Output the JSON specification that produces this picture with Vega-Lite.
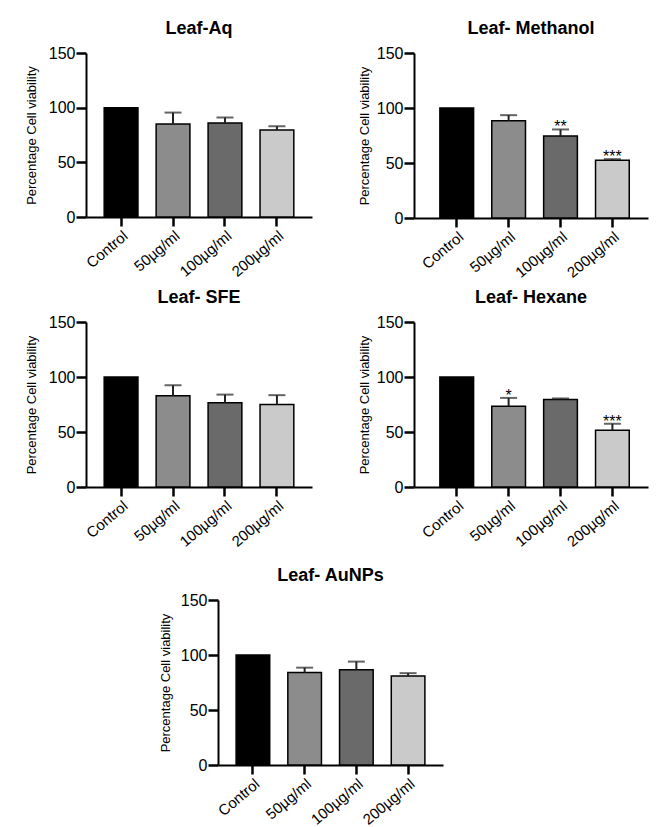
{
  "$schema": "https://vega.github.io/schema/vega-lite/v6.json",
  "background": "white",
  "padding": {"left": 25, "top": 20, "right": 5, "bottom": 0},
  "config": {
    "view": {"stroke": null},
    "font": "Liberation Sans",
    "title": {"font": "Liberation Sans", "fontSize": 18, "fontWeight": "bold", "color": "black", "frame": "group", "anchor": "middle", "offset": 7},
    "axis": {"grid": false, "domainColor": "black", "domainWidth": 2, "tickColor": "black", "tickWidth": 2.5, "labelColor": "black", "titleColor": "black", "labelFont": "Liberation Sans", "titleFont": "Liberation Sans"},
    "axisY": {"tickSize": 10, "labelFontSize": 16, "labelPadding": 1, "titleFontSize": 13, "titleFontWeight": "normal"},
    "axisX": {"tickSize": 9, "labelFontSize": 15, "labelAngle": -40, "labelPadding": 2, "title": null}
  },
  "datasets": {
    "cells": [
      {"panel": "Leaf-Aq", "group": "Control", "mean": 100, "upper": null, "sig": ""},
      {"panel": "Leaf-Aq", "group": "50µg/ml", "mean": 85, "upper": 95.5, "sig": ""},
      {"panel": "Leaf-Aq", "group": "100µg/ml", "mean": 86, "upper": 91, "sig": ""},
      {"panel": "Leaf-Aq", "group": "200µg/ml", "mean": 79.5, "upper": 83, "sig": ""},
      {"panel": "Leaf- Methanol", "group": "Control", "mean": 100, "upper": null, "sig": ""},
      {"panel": "Leaf- Methanol", "group": "50µg/ml", "mean": 88.5, "upper": 93.5, "sig": ""},
      {"panel": "Leaf- Methanol", "group": "100µg/ml", "mean": 74.5, "upper": 80.5, "sig": "**"},
      {"panel": "Leaf- Methanol", "group": "200µg/ml", "mean": 52.5, "upper": 53.5, "sig": "***"},
      {"panel": "Leaf- SFE", "group": "Control", "mean": 100, "upper": null, "sig": ""},
      {"panel": "Leaf- SFE", "group": "50µg/ml", "mean": 83, "upper": 92.5, "sig": ""},
      {"panel": "Leaf- SFE", "group": "100µg/ml", "mean": 76.5, "upper": 84, "sig": ""},
      {"panel": "Leaf- SFE", "group": "200µg/ml", "mean": 75, "upper": 83.5, "sig": ""},
      {"panel": "Leaf- Hexane", "group": "Control", "mean": 100, "upper": null, "sig": ""},
      {"panel": "Leaf- Hexane", "group": "50µg/ml", "mean": 73.5, "upper": 81, "sig": "*"},
      {"panel": "Leaf- Hexane", "group": "100µg/ml", "mean": 79.5, "upper": 80.5, "sig": ""},
      {"panel": "Leaf- Hexane", "group": "200µg/ml", "mean": 51.5, "upper": 57.5, "sig": "***"},
      {"panel": "Leaf- AuNPs", "group": "Control", "mean": 100, "upper": null, "sig": ""},
      {"panel": "Leaf- AuNPs", "group": "50µg/ml", "mean": 84, "upper": 88.5, "sig": ""},
      {"panel": "Leaf- AuNPs", "group": "100µg/ml", "mean": 86.5, "upper": 94, "sig": ""},
      {"panel": "Leaf- AuNPs", "group": "200µg/ml", "mean": 81, "upper": 83.5, "sig": ""}
    ]
  },
  "data": {"name": "cells"},
  "spacing": 17,
  "vconcat": [
    {
      "spacing": 8,
      "vconcat": [
        {
          "spacing": 46,
          "hconcat": [
            {
              "width": 226, "height": 164,
              "title": "Leaf-Aq",
              "transform": [{"filter": "datum.panel == 'Leaf-Aq'"}],
              "encoding": {"x": {"field": "group", "type": "nominal", "sort": ["Control", "50µg/ml", "100µg/ml", "200µg/ml"], "scale": {"paddingInner": 0.35, "paddingOuter": 0.35}}},
              "layer": [
                {"mark": {"type": "bar", "stroke": "black", "strokeWidth": 1.5},
                 "encoding": {"y": {"field": "mean", "type": "quantitative", "scale": {"domain": [0, 150], "nice": false}, "title": "Percentage Cell viability", "axis": {"titlePadding": 10, "values": [0, 50, 100, 150]}},
                              "color": {"field": "group", "type": "nominal", "scale": {"domain": ["Control", "50µg/ml", "100µg/ml", "200µg/ml"], "range": ["#000000", "#8c8c8c", "#6a6a6a", "#cacaca"]}, "legend": null}}},
                {"transform": [{"filter": "datum.upper != null"}], "mark": {"type": "rule", "strokeWidth": 2, "color": "#222222"},
                 "encoding": {"y": {"field": "mean", "type": "quantitative", "scale": {"domain": [0, 150], "nice": false}, "title": "Percentage Cell viability", "axis": {"titlePadding": 10, "values": [0, 50, 100, 150]}}, "y2": {"field": "upper"}}},
                {"transform": [{"filter": "datum.upper != null"}], "mark": {"type": "tick", "size": 17, "thickness": 2, "color": "#222222"},
                 "encoding": {"y": {"field": "upper", "type": "quantitative", "scale": {"domain": [0, 150], "nice": false}, "title": "Percentage Cell viability", "axis": {"titlePadding": 10, "values": [0, 50, 100, 150]}}}},
                {"mark": {"type": "text", "fontSize": 16, "baseline": "alphabetic", "dy": 3, "color": "black"},
                 "encoding": {"y": {"field": "upper", "type": "quantitative", "scale": {"domain": [0, 150], "nice": false}, "title": "Percentage Cell viability", "axis": {"titlePadding": 10, "values": [0, 50, 100, 150]}}, "text": {"field": "sig"}}}
              ]
            },
            {
              "width": 234, "height": 165,
              "title": "Leaf- Methanol",
              "transform": [{"filter": "datum.panel == 'Leaf- Methanol'"}],
              "encoding": {"x": {"field": "group", "type": "nominal", "sort": ["Control", "50µg/ml", "100µg/ml", "200µg/ml"], "scale": {"paddingInner": 0.35, "paddingOuter": 0.43, "align": 0.58}}},
              "layer": [
                {"mark": {"type": "bar", "stroke": "black", "strokeWidth": 1.5},
                 "encoding": {"y": {"field": "mean", "type": "quantitative", "scale": {"domain": [0, 150], "nice": false}, "title": "Percentage Cell viability", "axis": {"titlePadding": 5, "values": [0, 50, 100, 150]}},
                              "color": {"field": "group", "type": "nominal", "scale": {"domain": ["Control", "50µg/ml", "100µg/ml", "200µg/ml"], "range": ["#000000", "#8c8c8c", "#6a6a6a", "#cacaca"]}, "legend": null}}},
                {"transform": [{"filter": "datum.upper != null"}], "mark": {"type": "rule", "strokeWidth": 2, "color": "#222222"},
                 "encoding": {"y": {"field": "mean", "type": "quantitative", "scale": {"domain": [0, 150], "nice": false}, "title": "Percentage Cell viability", "axis": {"titlePadding": 5, "values": [0, 50, 100, 150]}}, "y2": {"field": "upper"}}},
                {"transform": [{"filter": "datum.upper != null"}], "mark": {"type": "tick", "size": 17, "thickness": 2, "color": "#222222"},
                 "encoding": {"y": {"field": "upper", "type": "quantitative", "scale": {"domain": [0, 150], "nice": false}, "title": "Percentage Cell viability", "axis": {"titlePadding": 5, "values": [0, 50, 100, 150]}}}},
                {"mark": {"type": "text", "fontSize": 16, "baseline": "alphabetic", "dy": 3, "color": "black"},
                 "encoding": {"y": {"field": "upper", "type": "quantitative", "scale": {"domain": [0, 150], "nice": false}, "title": "Percentage Cell viability", "axis": {"titlePadding": 5, "values": [0, 50, 100, 150]}}, "text": {"field": "sig"}}}
              ]
            }
          ]
        },
        {
          "spacing": 46,
          "hconcat": [
            {
              "width": 226, "height": 165,
              "title": "Leaf- SFE",
              "transform": [{"filter": "datum.panel == 'Leaf- SFE'"}],
              "encoding": {"x": {"field": "group", "type": "nominal", "sort": ["Control", "50µg/ml", "100µg/ml", "200µg/ml"], "scale": {"paddingInner": 0.35, "paddingOuter": 0.35}}},
              "layer": [
                {"mark": {"type": "bar", "stroke": "black", "strokeWidth": 1.5},
                 "encoding": {"y": {"field": "mean", "type": "quantitative", "scale": {"domain": [0, 150], "nice": false}, "title": "Percentage Cell viability", "axis": {"titlePadding": 10, "values": [0, 50, 100, 150]}},
                              "color": {"field": "group", "type": "nominal", "scale": {"domain": ["Control", "50µg/ml", "100µg/ml", "200µg/ml"], "range": ["#000000", "#8c8c8c", "#6a6a6a", "#cacaca"]}, "legend": null}}},
                {"transform": [{"filter": "datum.upper != null"}], "mark": {"type": "rule", "strokeWidth": 2, "color": "#222222"},
                 "encoding": {"y": {"field": "mean", "type": "quantitative", "scale": {"domain": [0, 150], "nice": false}, "title": "Percentage Cell viability", "axis": {"titlePadding": 10, "values": [0, 50, 100, 150]}}, "y2": {"field": "upper"}}},
                {"transform": [{"filter": "datum.upper != null"}], "mark": {"type": "tick", "size": 17, "thickness": 2, "color": "#222222"},
                 "encoding": {"y": {"field": "upper", "type": "quantitative", "scale": {"domain": [0, 150], "nice": false}, "title": "Percentage Cell viability", "axis": {"titlePadding": 10, "values": [0, 50, 100, 150]}}}},
                {"mark": {"type": "text", "fontSize": 16, "baseline": "alphabetic", "dy": 3, "color": "black"},
                 "encoding": {"y": {"field": "upper", "type": "quantitative", "scale": {"domain": [0, 150], "nice": false}, "title": "Percentage Cell viability", "axis": {"titlePadding": 10, "values": [0, 50, 100, 150]}}, "text": {"field": "sig"}}}
              ]
            },
            {
              "width": 234, "height": 165,
              "title": "Leaf- Hexane",
              "transform": [{"filter": "datum.panel == 'Leaf- Hexane'"}],
              "encoding": {"x": {"field": "group", "type": "nominal", "sort": ["Control", "50µg/ml", "100µg/ml", "200µg/ml"], "scale": {"paddingInner": 0.35, "paddingOuter": 0.43, "align": 0.58}}},
              "layer": [
                {"mark": {"type": "bar", "stroke": "black", "strokeWidth": 1.5},
                 "encoding": {"y": {"field": "mean", "type": "quantitative", "scale": {"domain": [0, 150], "nice": false}, "title": "Percentage Cell viability", "axis": {"titlePadding": 5, "values": [0, 50, 100, 150]}},
                              "color": {"field": "group", "type": "nominal", "scale": {"domain": ["Control", "50µg/ml", "100µg/ml", "200µg/ml"], "range": ["#000000", "#8c8c8c", "#6a6a6a", "#cacaca"]}, "legend": null}}},
                {"transform": [{"filter": "datum.upper != null"}], "mark": {"type": "rule", "strokeWidth": 2, "color": "#222222"},
                 "encoding": {"y": {"field": "mean", "type": "quantitative", "scale": {"domain": [0, 150], "nice": false}, "title": "Percentage Cell viability", "axis": {"titlePadding": 5, "values": [0, 50, 100, 150]}}, "y2": {"field": "upper"}}},
                {"transform": [{"filter": "datum.upper != null"}], "mark": {"type": "tick", "size": 17, "thickness": 2, "color": "#222222"},
                 "encoding": {"y": {"field": "upper", "type": "quantitative", "scale": {"domain": [0, 150], "nice": false}, "title": "Percentage Cell viability", "axis": {"titlePadding": 5, "values": [0, 50, 100, 150]}}}},
                {"mark": {"type": "text", "fontSize": 16, "baseline": "alphabetic", "dy": 3, "color": "black"},
                 "encoding": {"y": {"field": "upper", "type": "quantitative", "scale": {"domain": [0, 150], "nice": false}, "title": "Percentage Cell viability", "axis": {"titlePadding": 5, "values": [0, 50, 100, 150]}}, "text": {"field": "sig"}}}
              ]
            }
          ]
        }
      ]
    },
    {
      "spacing": 0,
      "hconcat": [
        {
          "width": 73, "height": 10,
          "transform": [{"filter": "false"}],
          "mark": "point"
        },
        {
          "width": 225, "height": 165,
          "title": "Leaf- AuNPs",
          "transform": [{"filter": "datum.panel == 'Leaf- AuNPs'"}],
          "encoding": {"x": {"field": "group", "type": "nominal", "sort": ["Control", "50µg/ml", "100µg/ml", "200µg/ml"], "scale": {"paddingInner": 0.35, "paddingOuter": 0.35}}},
          "layer": [
            {"mark": {"type": "bar", "stroke": "black", "strokeWidth": 1.5},
             "encoding": {"y": {"field": "mean", "type": "quantitative", "scale": {"domain": [0, 150], "nice": false}, "title": "Percentage Cell viability", "axis": {"titlePadding": 8, "values": [0, 50, 100, 150]}},
                          "color": {"field": "group", "type": "nominal", "scale": {"domain": ["Control", "50µg/ml", "100µg/ml", "200µg/ml"], "range": ["#000000", "#8c8c8c", "#6a6a6a", "#cacaca"]}, "legend": null}}},
            {"transform": [{"filter": "datum.upper != null"}], "mark": {"type": "rule", "strokeWidth": 2, "color": "#222222"},
             "encoding": {"y": {"field": "mean", "type": "quantitative", "scale": {"domain": [0, 150], "nice": false}, "title": "Percentage Cell viability", "axis": {"titlePadding": 8, "values": [0, 50, 100, 150]}}, "y2": {"field": "upper"}}},
            {"transform": [{"filter": "datum.upper != null"}], "mark": {"type": "tick", "size": 17, "thickness": 2, "color": "#222222"},
             "encoding": {"y": {"field": "upper", "type": "quantitative", "scale": {"domain": [0, 150], "nice": false}, "title": "Percentage Cell viability", "axis": {"titlePadding": 8, "values": [0, 50, 100, 150]}}}},
            {"mark": {"type": "text", "fontSize": 16, "baseline": "alphabetic", "dy": 3, "color": "black"},
             "encoding": {"y": {"field": "upper", "type": "quantitative", "scale": {"domain": [0, 150], "nice": false}, "title": "Percentage Cell viability", "axis": {"titlePadding": 8, "values": [0, 50, 100, 150]}}, "text": {"field": "sig"}}}
          ]
        }
      ]
    }
  ]
}
